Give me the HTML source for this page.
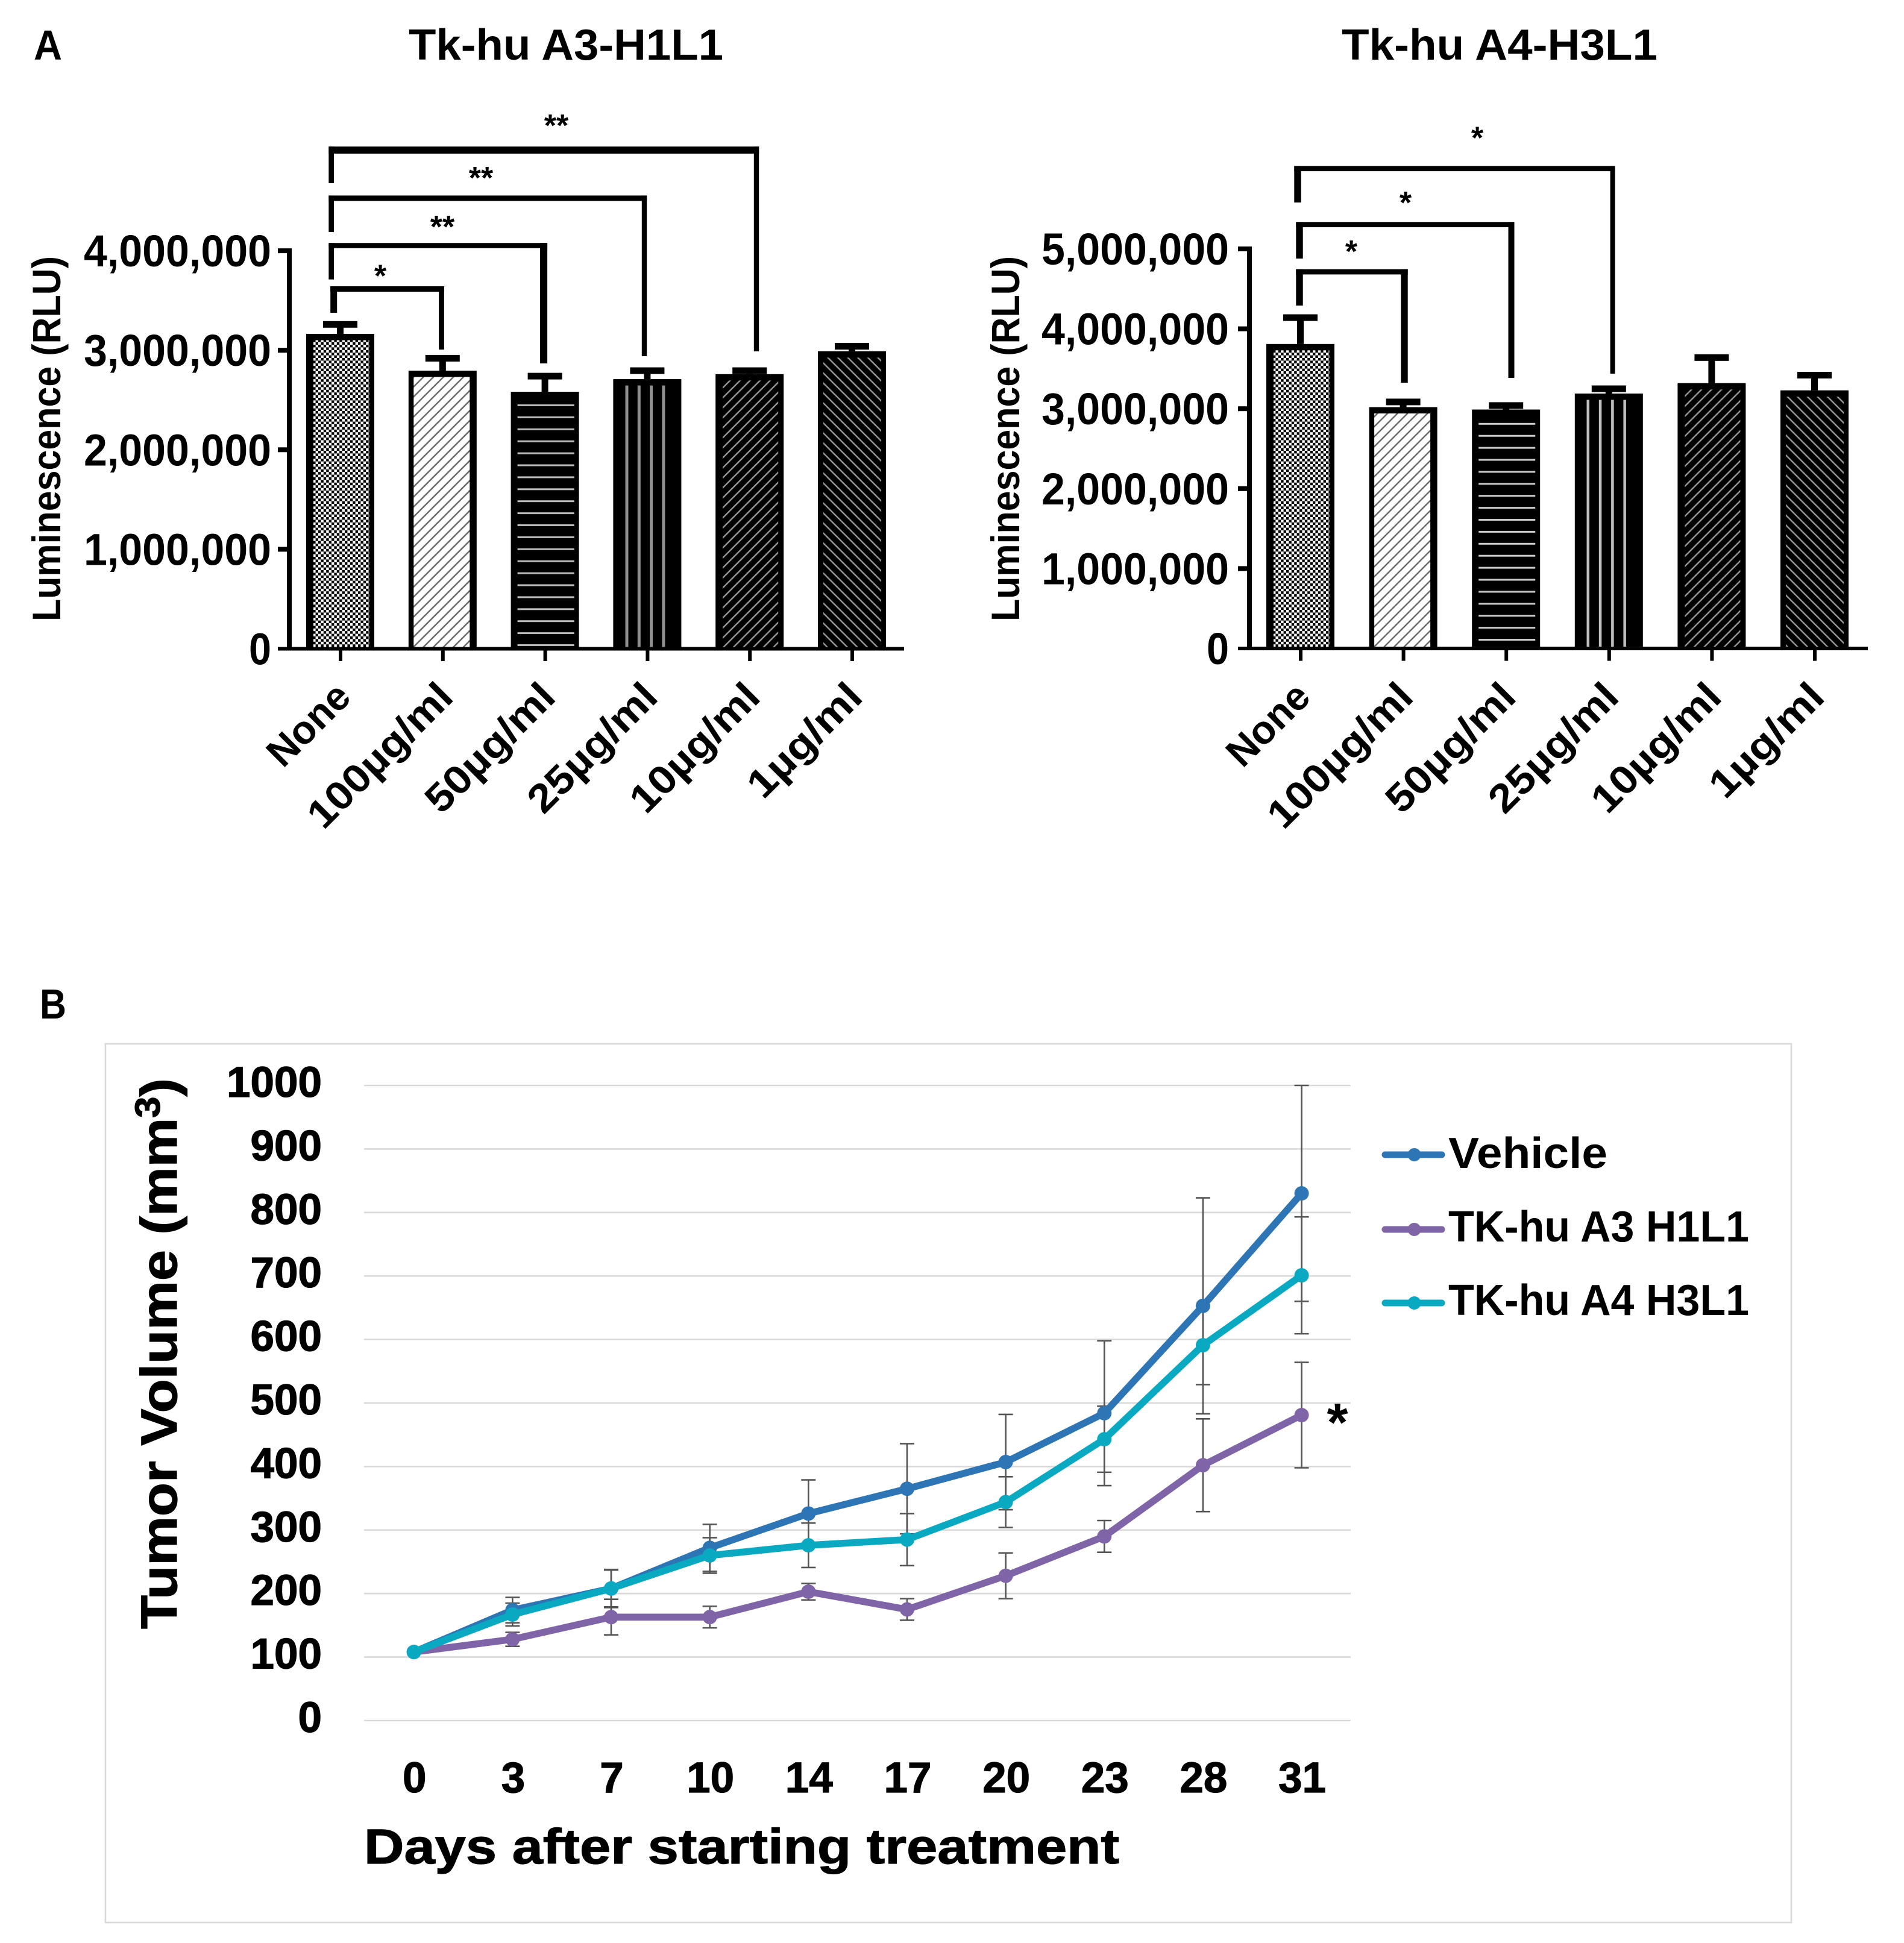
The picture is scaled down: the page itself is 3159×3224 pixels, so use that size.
<!DOCTYPE html>
<html lang="en">
<head>
<meta charset="utf-8">
<title>Tk-hu antibody luminescence and tumor volume figure</title>
<style>
html,body{margin:0;padding:0;background:#fff;}
svg{display:block;}
text{font-family:"Liberation Sans",sans-serif;font-weight:bold;fill:#000;}
.heavy{stroke:#000;stroke-width:1.2px;}
</style>
</head>
<body>
<svg id="figure" xmlns="http://www.w3.org/2000/svg" width="3159" height="3224" viewBox="0 0 3159 3224">
  <defs>
    <pattern id="pat-check" patternUnits="userSpaceOnUse" width="8.8" height="8.8">
      <rect width="8.8" height="8.8" fill="#fff"/>
      <rect width="4.4" height="4.4" fill="#000"/>
      <rect x="4.4" y="4.4" width="4.4" height="4.4" fill="#000"/>
    </pattern>
    <pattern id="pat-fwd" patternUnits="userSpaceOnUse" width="16.6" height="16.6">
      <rect width="16.6" height="16.6" fill="#fff"/>
      <path d="M-2,2 L2,-2 M0,16.6 L16.6,0 M14.6,18.6 L18.6,14.6" stroke="#666" stroke-width="2.4"/>
    </pattern>
    <pattern id="pat-h-a" patternUnits="userSpaceOnUse" x="0" y="1069" width="20" height="19.9">
      <rect width="20" height="19.9" fill="#000"/>
      <rect y="0" width="20" height="3" fill="#bbb"/>
    </pattern>
    <pattern id="pat-h-b" patternUnits="userSpaceOnUse" x="0" y="1060" width="20" height="19.9">
      <rect width="20" height="19.9" fill="#000"/>
      <rect y="0" width="20" height="3" fill="#ccc"/>
    </pattern>
    <pattern id="pat-v-a" patternUnits="userSpaceOnUse" x="1037.5" y="0" width="20.3" height="20">
      <rect width="20.3" height="20" fill="#000"/>
      <rect x="0" width="5" height="20" fill="#909090"/>
    </pattern>
    <pattern id="pat-v-b" patternUnits="userSpaceOnUse" x="2632.5" y="0" width="20.3" height="20">
      <rect width="20.3" height="20" fill="#000"/>
      <rect x="0" width="4.5" height="20" fill="#c0c0c0"/>
    </pattern>
    <pattern id="pat-dark-fwd" patternUnits="userSpaceOnUse" width="16.6" height="16.6">
      <rect width="16.6" height="16.6" fill="#000"/>
      <path d="M-2,2 L2,-2 M0,16.6 L16.6,0 M14.6,18.6 L18.6,14.6" stroke="#999" stroke-width="2.4"/>
    </pattern>
    <pattern id="pat-dark-back" patternUnits="userSpaceOnUse" width="16.6" height="16.6">
      <rect width="16.6" height="16.6" fill="#000"/>
      <path d="M-2,14.6 L2,18.6 M0,0 L16.6,16.6 M14.6,-2 L18.6,2" stroke="#999" stroke-width="2.4"/>
    </pattern>
  </defs>

  <rect x="0" y="0" width="3159" height="3224" fill="#fff"/>

  <text x="56" y="99" font-size="70" textLength="47" lengthAdjust="spacingAndGlyphs">A</text>
  <text x="678" y="99" font-size="72" textLength="522" lengthAdjust="spacingAndGlyphs">Tk-hu A3-H1L1</text>
  <text x="2226" y="99" font-size="72" textLength="524" lengthAdjust="spacingAndGlyphs">Tk-hu A4-H3L1</text>
  <text transform="rotate(-90 100 728)" x="100" y="728" font-size="66" text-anchor="middle" textLength="606" lengthAdjust="spacingAndGlyphs">Luminescence (RLU)</text>
  <text transform="rotate(-90 1691 728)" x="1691" y="728" font-size="66" text-anchor="middle" textLength="606" lengthAdjust="spacingAndGlyphs">Luminescence (RLU)</text>

  <text x="66" y="1690" font-size="70" textLength="44" lengthAdjust="spacingAndGlyphs">B</text>
  <rect x="175" y="1732" width="2797" height="1458" fill="#fff" stroke="#d9d9d9" stroke-width="2.6"/>
  <text class="heavy" transform="rotate(-90 293 2246)" x="293" y="2246" font-size="84" text-anchor="middle" textLength="914" lengthAdjust="spacingAndGlyphs">Tumor Volume (mm<tspan font-size="58" dy="-28">3</tspan><tspan dy="28">)</tspan></text>
  <text class="heavy" x="604" y="3092" font-size="82" textLength="1253" lengthAdjust="spacingAndGlyphs">Days after starting treatment</text>
  <text x="2219" y="2391" font-size="90" text-anchor="middle">*</text>

  <g id="chart-a3"></g>
  <g id="chart-a4"></g>
  <g id="line-chart"></g>
  <g id="legend"></g>
</svg>

<script>
/* ---------- bar chart data ---------- */
const barCategories = ['None', '100µg/ml', '50µg/ml', '25µg/ml', '10µg/ml', '1µg/ml'];
const a3Means = [3165000, 2795000, 2583000, 2710000, 2760000, 2990000];
const a3Upper = [3260000, 2920000, 2740000, 2795000, 2795000, 3040000];
const a4Means = [3810000, 3020000, 2990000, 3190000, 3320000, 3230000];
const a4Upper = [4140000, 3085000, 3040000, 3250000, 3640000, 3420000];
const a3Ticks = [0, 1000000, 2000000, 3000000, 4000000];
const a3TickLabels = ['0', '1,000,000', '2,000,000', '3,000,000', '4,000,000'];
const a4Ticks = [0, 1000000, 2000000, 3000000, 4000000, 5000000];
const a4TickLabels = ['0', '1,000,000', '2,000,000', '3,000,000', '4,000,000', '5,000,000'];
const labelLengthFactors = [164, 309, 273, 273, 273, 238];

/* ---------- line chart data ---------- */
const days = ['0', '3', '7', '10', '14', '17', '20', '23', '28', '31'];
const volumeTicks = [0, 100, 200, 300, 400, 500, 600, 700, 800, 900, 1000];
const vehicleMeans = [108, 174, 208, 272, 326, 365, 407, 484, 653, 830];
const vehicleErrors = [0, 20, 30, 37, 53, 71, 75, 114, 170, 170];
const a3Volumes = [108, 128, 163, 163, 203, 175, 228, 290, 402, 481];
const a3Errors = [0, 11, 28, 17, 13, 17, 36, 25, 73, 83];
const a4Volumes = [108, 167, 208, 260, 276, 285, 344, 443, 591, 701];
const a4Errors = [0, 18, 29, 28, 35, 41, 40, 52, 62, 92];
const seriesNames = ['Vehicle', 'TK-hu A3 H1L1', 'TK-hu A4 H3L1'];

const NS = 'http://www.w3.org/2000/svg';
function mk(tag, parent, attrs) {
  const node = document.createElementNS(NS, tag);
  for (const k in attrs) node.setAttribute(k, attrs[k]);
  parent.appendChild(node);
  return node;
}

/* ---------- bar chart drawing ---------- */
const barLook = [
  {fill: 'pat-check', l: 12, r: 8.5},
  {fill: 'pat-fwd', l: 8.5, r: 11.5},
  {fill: 'pat-h', l: 11, r: 8},
  {fill: 'pat-v', l: 18, r: 23},
  {fill: 'pat-dark-fwd', l: 12, r: 9},
  {fill: 'pat-dark-back', l: 9, r: 8}
];

function drawBarChart(root, prefix, suffix, geo, means, upper, ticks, tickLabels) {
  const xAt = i => geo.x0 + geo.step * i;
  const yAt = v => geo.base - v * geo.perUnit;
  const barW = 113;

  means.forEach(function (v, i) {
    const cat = barCategories[i];
    const cx = xAt(i);
    const top = yAt(v);
    const capY = yAt(upper[i]);

    const stem = mk('rect', root, {x: cx - 5.5, y: capY, width: 11, height: Math.max(0, top - capY), fill: '#000'});
    
    

    const cap = mk('rect', root, {x: cx - 28.5, y: capY - 5.5, width: 57, height: 11, fill: '#000'});
    
    

    const bar = mk('rect', root, {x: cx - barW / 2, y: top, width: barW, height: geo.base - top, fill: '#000'});
    
    

    const look = barLook[i];
    const usesSuffix = look.fill === 'pat-h' || look.fill === 'pat-v';
    const patId = usesSuffix ? look.fill + suffix : look.fill;
    const inner = mk('rect', root, {
      x: cx - barW / 2 + look.l,
      y: top + 10.5,
      width: barW - look.l - look.r,
      height: Math.max(0, geo.base - top - 10.5),
      fill: 'url(#' + patId + ')'
    });
    
    

    const tick = mk('rect', root, {x: cx - 2.5, y: geo.base, width: 6, height: 20.5, fill: '#000'});
    
    

    const lx = cx + geo.labelDx;
    const ly = 1160;
    const label = mk('text', root, {
      x: lx, y: ly, 'font-size': 66, 'text-anchor': 'end',
      transform: 'rotate(-45 ' + lx + ' ' + ly + ')',
      textLength: labelLengthFactors[i], lengthAdjust: 'spacingAndGlyphs'
    });
    label.textContent = cat;
    
    
  });

  const topTick = ticks[ticks.length - 1];
  const yAxis = mk('rect', root, {x: geo.axisX, y: yAt(topTick) - 4, width: 8, height: geo.base + 3 - yAt(topTick) + 4, fill: '#000'});
  
  

  const xAxis = mk('rect', root, {x: geo.axisX - 15, y: geo.base - 3, width: geo.axisEnd - geo.axisX + 15, height: 6, fill: '#000'});
  
  

  ticks.forEach(function (t, i) {
    const yTick = mk('rect', root, {x: geo.axisX - 15, y: yAt(t) - (t === 0 ? 3 : 4), width: 15, height: t === 0 ? 6 : 8, fill: '#000'});
    
    

    const yLabel = mk('text', root, {
      x: geo.axisX - geo.labelGap, y: yAt(t) + 26, 'font-size': 74, 'text-anchor': 'end',
      textLength: t === 0 ? 37 : 311, lengthAdjust: 'spacingAndGlyphs'
    });
    yLabel.textContent = tickLabels[i];
    
    
  });

  return {xAt: xAt, yAt: yAt};
}

function bracket(root, prefix, axes, n, from, fromOff, fromW, to, toOff, toW, level, levelW, leftEnd, rightEnd, stars, starX, starLevel) {
  const xL = axes.xAt(from) + fromOff;
  const xR = axes.xAt(to) + toOff;
  const yH = axes.yAt(level);

  const left = mk('rect', root, {x: xL - fromW / 2, y: yH - levelW / 2, width: fromW, height: axes.yAt(leftEnd) - yH + levelW / 2, fill: '#000'});
  
  

  const bar = mk('rect', root, {x: xL - fromW / 2, y: yH - levelW / 2, width: xR - xL + fromW / 2 + toW / 2, height: levelW, fill: '#000'});
  
  

  const right = mk('rect', root, {x: xR - toW / 2, y: yH - levelW / 2, width: toW, height: axes.yAt(rightEnd) - yH + levelW / 2, fill: '#000'});
  
  

  const star = mk('text', root, {x: starX, y: axes.yAt(starLevel) + 22, 'font-size': 52, 'text-anchor': 'middle'});
  star.textContent = stars;
  
  
}

const a3Root = document.getElementById('chart-a3');
const a3Axes = drawBarChart(a3Root, 'a3', '-a',
  {x0: 564.5, step: 169.8, base: 1076.5, perUnit: 165.1e-6, axisX: 476, axisEnd: 1500, labelDx: 21, labelGap: 26},
  a3Means, a3Upper, a3Ticks, a3TickLabels);
bracket(a3Root, 'a3', a3Axes, 1, 0, -10.8, 11, 1, -1.8, 8.7, 3616000, 9, 3377000, 3007000, '*', 631, 3773000);
bracket(a3Root, 'a3', a3Axes, 2, 0, -14.8, 8.7, 2, -2, 12, 4052000, 8.6, 3712000, 2868000, '**', 734, 4266000);
bracket(a3Root, 'a3', a3Axes, 3, 0, -14.8, 8.7, 3, -4.9, 8.4, 4528000, 9, 4188000, 2941000, '**', 798, 4758000);
bracket(a3Root, 'a3', a3Axes, 4, 0, -14.8, 8.7, 4, 11.3, 8.4, 5012000, 11.7, 4679000, 2989000, '**', 923, 5285000);

const a4Root = document.getElementById('chart-a4');
const a4Axes = drawBarChart(a4Root, 'a4', '-b',
  {x0: 2157.5, step: 170.6, base: 1076, perUnit: 132.6e-6, axisX: 2069, axisEnd: 3099, labelDx: 20, labelGap: 30},
  a4Means, a4Upper, a4Ticks, a4TickLabels);
bracket(a4Root, 'a4', a4Axes, 1, 0, -1.5, 11.4, 1, 1.9, 11.4, 4713000, 8.7, 4291000, 3326000, '*', 2242, 5000000);
bracket(a4Root, 'a4', a4Axes, 2, 0, -1.5, 11.4, 2, 8.8, 10, 5304000, 8.7, 4879000, 3386000, '*', 2332, 5611000);
bracket(a4Root, 'a4', a4Axes, 3, 0, -4.5, 11.4, 3, 6.3, 8, 6005000, 8.7, 5581000, 3439000, '*', 2451, 6421000);

/* ---------- line chart drawing ---------- */
const lineRoot = document.getElementById('line-chart');
const dayX = i => 686.7 + 163.65 * i;
const volY = v => 2855 - v * 1.054;

volumeTicks.forEach(function (t) {
  const grid = mk('line', lineRoot, {x1: 604, x2: 2241, y1: volY(t), y2: volY(t), stroke: '#d9d9d9', 'stroke-width': 2.6});
  
  

  const label = mk('text', lineRoot, {x: 534, y: volY(t) + 19, 'font-size': 71, 'text-anchor': 'end'});
  label.setAttribute('class', 'heavy');
  label.textContent = String(t);
  
  
});

days.forEach(function (d, i) {
  const label = mk('text', lineRoot, {x: dayX(i) + 1, y: 2974, 'font-size': 71, 'text-anchor': 'middle'});
  label.setAttribute('class', 'heavy');
  label.textContent = d;
  
  
});

const lineSeries = [
  {key: 'vehicle', means: vehicleMeans, errs: vehicleErrors, color: '#2e75b6'},
  {key: 'a3-h1l1', means: a3Volumes, errs: a3Errors, color: '#8064a8'},
  {key: 'a4-h3l1', means: a4Volumes, errs: a4Errors, color: '#0aa9c2'}
];

lineSeries.forEach(function (s) {
  s.errs.forEach(function (e, i) {
    if (!e) return;
    const hi = volY(s.means[i] + e);
    const lo = volY(s.means[i] - e);
    const cx = dayX(i);
    const err = mk('path', lineRoot, {
      d: 'M' + cx + ',' + hi + 'V' + lo + 'M' + (cx - 12) + ',' + hi + 'H' + (cx + 12) + 'M' + (cx - 12) + ',' + lo + 'H' + (cx + 12),
      fill: 'none', stroke: '#555', 'stroke-width': 2.6
    });
    
    
  });
});

lineSeries.forEach(function (s) {
  const pts = s.means.map(function (v, i) { return dayX(i) + ',' + volY(v); }).join(' ');
  const line = mk('polyline', lineRoot, {points: pts, fill: 'none', stroke: s.color, 'stroke-width': 11.5, 'stroke-linejoin': 'round', 'stroke-linecap': 'round'});
  
  

  s.means.forEach(function (v, i) {
    const dot = mk('circle', lineRoot, {cx: dayX(i), cy: volY(v), r: 12, fill: s.color});
    
    
  });
});

/* ---------- legend ---------- */
const legendRoot = document.getElementById('legend');
const legendLook = [
  {lineY: 1916, baseY: 1938, width: 264},
  {lineY: 2040, baseY: 2060, width: 499},
  {lineY: 2162, baseY: 2182, width: 499}
];
seriesNames.forEach(function (name, i) {
  const look = legendLook[i];
  const color = lineSeries[i].color;

  const swatch = mk('line', legendRoot, {x1: 2298, x2: 2392, y1: look.lineY, y2: look.lineY, stroke: color, 'stroke-width': 11, 'stroke-linecap': 'round'});
  
  

  const dot = mk('circle', legendRoot, {cx: 2346.5, cy: look.lineY, r: 11, fill: color});
  
  

  const txt = mk('text', legendRoot, {x: 2403, y: look.baseY, 'font-size': 72, textLength: look.width, lengthAdjust: 'spacingAndGlyphs'});
  txt.textContent = name;
  
  
});
</script>
</body>
</html>
